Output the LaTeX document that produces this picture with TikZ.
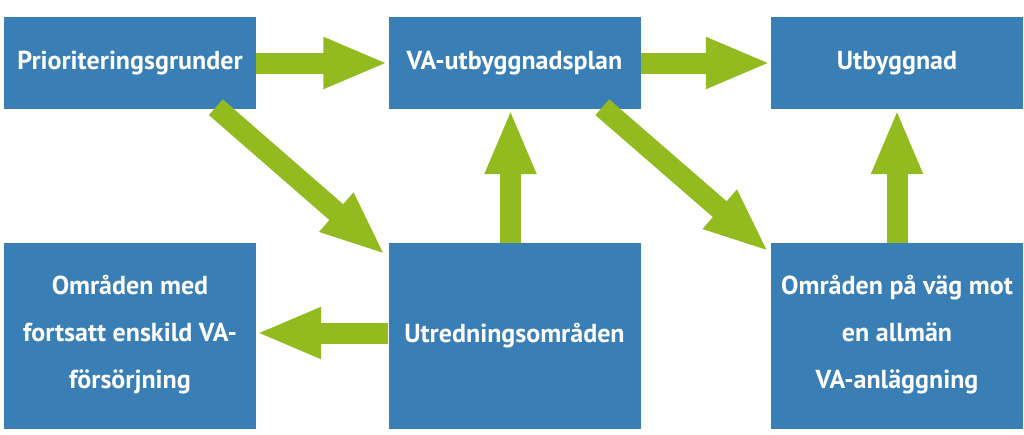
\documentclass[tikz,border=0pt]{standalone}
\usepackage{fontspec}
\setmainfont{PT Sans}
\usetikzlibrary{arrows.meta,calc}
\definecolor{boxblue}{HTML}{3A7EB6}
\definecolor{arrgreen}{HTML}{93BA1F}
\tikzset{
  box/.style={fill=boxblue, draw=none, minimum width=252pt, inner sep=0pt,
    text=white, font=\bfseries\fontsize{26}{47}\selectfont, align=center},
  topbox/.style={box, minimum height=92pt},
  lowbox/.style={box, minimum height=186pt},
  bigarrow/.style={draw=arrgreen, line width=21pt,
    -{Triangle[width=47pt,length=65pt]}, arrgreen}
}
\begin{document}
\begin{tikzpicture}[x=1pt,y=-1pt]
\useasboundingbox (0,0) rectangle (1024,434);
\node[topbox] (p) at (130,63) {Prioriteringsgrunder};
\node[topbox] (v) at (514.5,63) {VA-utbyggnadsplan};
\node[topbox] (b) at (897,63) {Utbyggnad};
\node[lowbox] (e) at (130,336) {Områden med\\fortsatt enskild VA-\\försörjning\rule[-9pt]{0pt}{1pt}};
\node[lowbox] (u) at (514.5,336) {Utredningsområden};
\node[lowbox] (m) at (897,336) {Områden på väg mot\\en allmän\\VA-anläggning\rule[-9pt]{0pt}{1pt}};
% horizontal arrows
\draw[bigarrow] (p.east) -- (v.west);
\draw[bigarrow] (v.east) -- (b.west);
\draw[bigarrow] ($(u.west)+(0,-3)$) -- ($(e.east)+(0,-3)$);
% upward arrows
\draw[bigarrow] ($(u.north)+(-4,0)$) -- ($(v.south)+(-4,0)$);
\draw[bigarrow] (m.north) -- (b.south);
% diagonal arrows
\coordinate (d1s) at ($(p.south west)+(212,-2)$);
\coordinate (d1e) at ($(u.north west)+(-3,12)$);
\coordinate (d2s) at ($(v.south west)+(214,-2)$);
\coordinate (d2e) at ($(m.north west)+(-2,9)$);
\draw[bigarrow] (d1s) -- (d1e);
\draw[bigarrow] (d2s) -- (d2e);
\end{tikzpicture}
\end{document}
